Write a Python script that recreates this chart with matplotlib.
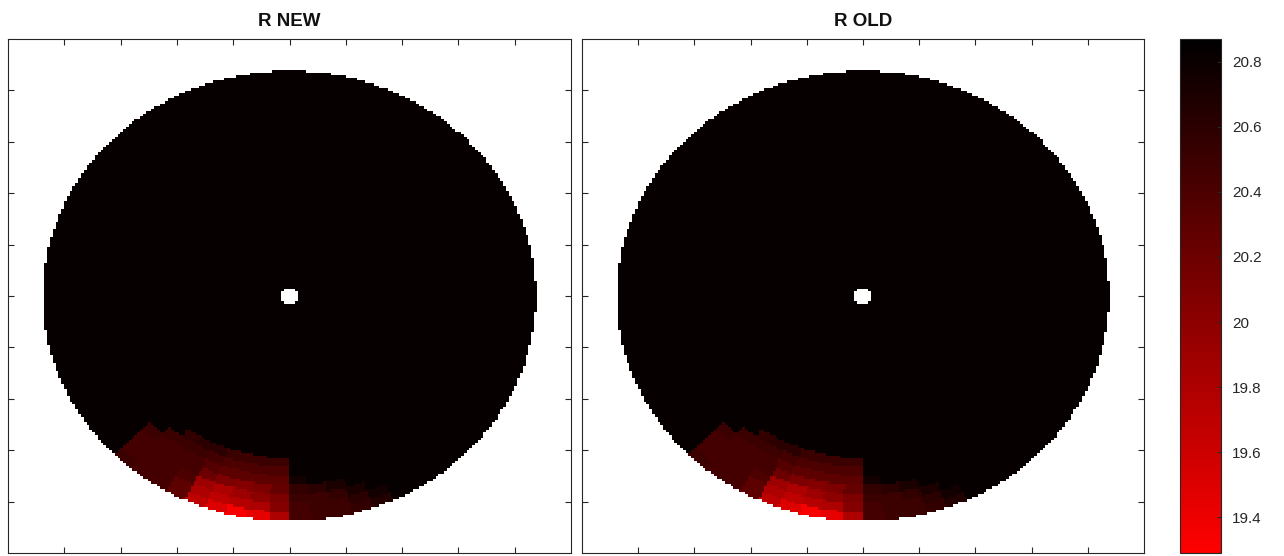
import numpy as np
import matplotlib
matplotlib.use("Agg")
import matplotlib.pyplot as plt
from matplotlib.colors import LinearSegmentedColormap

# ---------------- data ----------------
titles = ["R NEW", "R OLD"]
disc_radius = 87.6          # wafer radius (axis units)
hole_radius = 3.2           # small central hole
base_value = 20.83          # value over most of the disc
axis_limit = 100.0
tick_values = [-80, -60, -40, -20, 0, 20, 40, 60, 80]

# polar patch grid of the low-R region (angles in degrees, radii as fraction of radius)
sector_edges_deg = [225, 230, 235, 240, 245, 250, 255, 260, 265, 270, 275, 280, 285, 290, 295]
ring_edges = [0.72, 0.76, 0.80, 0.84, 0.88, 0.92, 0.96, 1.00]
B = base_value
r_new_patch = [
    [B,     B,     20.55, 20.60, 20.60, 20.50, 20.50, 20.50, 20.50, B,     B,     B,     B,     B],
    [B,     20.50, 20.50, 20.50, 20.45, 20.40, 20.40, 20.40, 20.40, B,     B,     B,     B,     B],
    [20.50, 20.45, 20.45, 20.45, 20.35, 20.30, 20.30, 20.30, 20.30, 20.75, B,     B,     B,     B],
    [20.45, 20.45, 20.45, 20.45, 20.20, 20.10, 20.05, 20.10, 20.25, 20.55, 20.60, 20.70, B,     B],
    [20.45, 20.45, 20.45, 20.40, 19.90, 19.80, 19.90, 20.00, 20.10, 20.50, 20.50, 20.55, 20.70, B],
    [20.45, 20.45, 20.45, 20.30, 19.80, 19.70, 19.75, 19.80, 20.05, 20.45, 20.50, 20.50, 20.60, 20.75],
    [20.50, 20.45, 20.45, 20.30, 19.70, 19.50, 19.35, 19.45, 19.80, 20.45, 20.50, 20.50, 20.55, 20.65],
]
r_old_patch = [
    [B,     B,     20.55, 20.60, 20.60, 20.50, 20.50, 20.50, 20.50, B,     B,     B,     B,     B],
    [B,     20.50, 20.50, 20.50, 20.45, 20.40, 20.40, 20.40, 20.40, B,     B,     B,     B,     B],
    [20.50, 20.45, 20.45, 20.45, 20.35, 20.30, 20.30, 20.30, 20.30, 20.75, B,     B,     B,     B],
    [20.45, 20.45, 20.45, 20.45, 20.20, 20.10, 20.05, 20.10, 20.25, 20.55, 20.60, 20.70, B,     B],
    [20.45, 20.45, 20.45, 20.40, 19.90, 19.80, 19.90, 20.00, 20.10, 20.50, 20.50, 20.55, 20.70, B],
    [20.45, 20.45, 20.45, 20.30, 19.80, 19.70, 19.75, 19.80, 20.05, 20.45, 20.50, 20.50, 20.60, 20.75],
    [20.50, 20.45, 20.45, 20.30, 19.70, 19.50, 19.35, 19.45, 19.80, 20.45, 20.50, 20.50, 20.55, 20.65],
]
color_min, color_max = 19.29, 20.87
cbar_ticks = [19.4, 19.6, 19.8, 20.0, 20.2, 20.4, 20.6, 20.8]

# ---------------- figure ----------------
plt.rcParams['font.family'] = ['Liberation Sans', 'DejaVu Sans']
fig = plt.figure(figsize=(12.84, 5.56), dpi=100)
cmap = LinearSegmentedColormap.from_list("redblack", ["#ff0000", "#000000"])

ax_pos = [[8/1284, 3/556, 563/1284, 514/556],
          [582/1284, 3/556, 562/1284, 514/556]]
cax_pos = [1180/1284, 3/556, 41/1284, 514/556]

step = 1.0
edges = np.arange(-disc_radius - 0.5, disc_radius + 1.0, step)
centers = 0.5 * (edges[:-1] + edges[1:])
X, Y = np.meshgrid(centers, centers)
Rf = np.hypot(X, Y) / disc_radius
T = np.degrees(np.arctan2(Y, X)) % 360


def build_map(patch):
    patch = np.asarray(patch, dtype=float)
    Z = np.full(X.shape, base_value)
    ri = np.digitize(Rf, ring_edges) - 1
    si = np.digitize(T, sector_edges_deg) - 1
    ok = (ri >= 0) & (ri < len(ring_edges) - 1) & (si >= 0) & (si < len(sector_edges_deg) - 1)
    Z[ok] = patch[ri[ok], si[ok]]
    outside = (Rf > 1.0) | (np.hypot(X, Y) < hole_radius)
    return np.ma.masked_where(outside, Z)


mesh = None
for pos, title, patch in zip(ax_pos, titles, [r_new_patch, r_old_patch]):
    ax = fig.add_axes(pos)
    Z = build_map(patch)
    mesh = ax.pcolormesh(edges, edges, Z, cmap=cmap, vmin=color_min, vmax=color_max,
                         shading='flat', rasterized=True)
    ax.set_xlim(-axis_limit, axis_limit)
    ax.set_ylim(-axis_limit, axis_limit)
    ax.set_xticks(tick_values)
    ax.set_yticks(tick_values)
    ax.tick_params(direction='in', length=4, width=0.8, color='#262626',
                   top=True, right=True, labelbottom=False, labelleft=False)
    for sp in ax.spines.values():
        sp.set_color('#262626')
        sp.set_linewidth(0.8)
    ax.set_title(title, fontsize=13.5, fontweight='bold', color='#111111', pad=9)

cax = fig.add_axes(cax_pos)
cb = fig.colorbar(mesh, cax=cax, ticks=cbar_ticks)
cb.ax.set_yticklabels([f"{v:g}" for v in cbar_ticks])
cb.ax.tick_params(direction='in', length=3, width=0.8, color='#262626',
                  labelsize=11, labelcolor='#262626', pad=8)
cb.outline.set_edgecolor('#262626')
cb.outline.set_linewidth(0.8)

fig.savefig("out.png", dpi=100)
